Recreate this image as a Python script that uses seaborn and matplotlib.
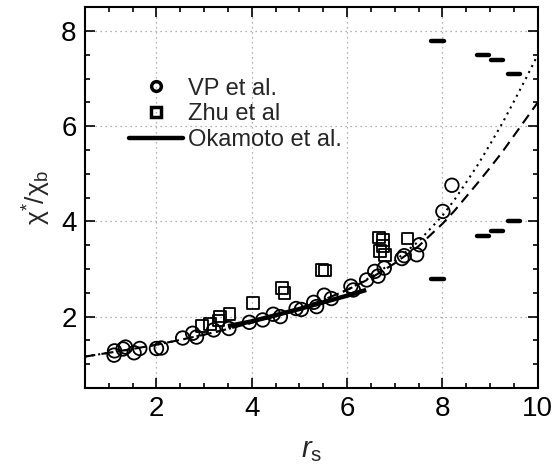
import matplotlib
matplotlib.use("Agg")
import matplotlib.pyplot as plt
from matplotlib.lines import Line2D
from matplotlib.ticker import MultipleLocator
import seaborn as sns

# VP et al. (open circles)
vp_rs = [1.11, 1.12, 1.30, 1.35, 1.53, 1.65, 2.00, 2.10, 2.55, 2.76, 2.84,
         3.20, 3.52, 3.95, 4.23, 4.45, 4.60, 4.93, 5.04, 5.30, 5.36, 5.52,
         5.67, 6.08, 6.13, 6.41, 6.58, 6.65, 6.78, 7.15, 7.20, 7.46, 7.52,
         8.01, 8.20]
vp_chi = [1.19, 1.28, 1.32, 1.36, 1.24, 1.33, 1.33, 1.34, 1.55, 1.65, 1.57,
          1.72, 1.75, 1.88, 1.93, 2.05, 2.00, 2.17, 2.15, 2.30, 2.21, 2.45,
          2.38, 2.64, 2.56, 2.77, 2.95, 2.85, 3.02, 3.22, 3.28, 3.30, 3.51,
          4.21, 4.76]

# Zhu et al (open squares)
zhu_rs = [2.96, 3.12, 3.30, 3.33, 3.53, 4.03, 4.64, 4.69, 5.47, 5.53,
          6.67, 6.75, 6.76, 6.69, 6.79, 7.27]
zhu_chi = [1.80, 1.85, 1.92, 2.00, 2.05, 2.28, 2.60, 2.49, 2.98, 2.97,
           3.66, 3.61, 3.49, 3.38, 3.30, 3.64]

# Okamoto et al. (solid curve)
okamoto_rs = [3.5, 4.0, 4.5, 5.0, 5.5, 6.0, 6.4]
okamoto_chi = [1.80, 1.90, 2.03, 2.16, 2.30, 2.44, 2.56]

# Model curves
curve_rs = [0.5, 1.0, 1.5, 2.0, 2.5, 3.0, 3.5, 4.0, 4.5, 5.0, 5.5, 6.0,
            6.5, 7.0, 7.5, 8.0, 8.25, 8.5, 8.75, 9.0, 9.25, 9.5, 9.75, 10.0]
dotted_chi = [1.16, 1.24, 1.32, 1.41, 1.51, 1.62, 1.74, 1.87, 2.01, 2.17,
              2.35, 2.56, 2.83, 3.17, 3.58, 4.12, 4.45, 4.82, 5.20, 5.62,
              6.05, 6.52, 7.00, 7.50]
dashed_chi = [1.16, 1.24, 1.32, 1.41, 1.51, 1.62, 1.74, 1.87, 2.01, 2.17,
              2.35, 2.56, 2.81, 3.12, 3.48, 3.95, 4.22, 4.52, 4.82, 5.13,
              5.45, 5.80, 6.15, 6.50]

# Bounds at large r_s (short horizontal bars)
bar_rs = [7.9, 8.85, 9.15, 9.5]
bar_upper = [7.8, 7.5, 7.4, 7.1]
bar_lower = [2.8, 3.7, 3.8, 4.0]

x_ticks = [2, 4, 6, 8, 10]
y_ticks = [2, 4, 6, 8]

sns.set_style("ticks")
plt.rcParams["font.family"] = ["Liberation Sans", "DejaVu Sans"]
plt.rcParams["mathtext.fontset"] = "custom"
plt.rcParams["mathtext.rm"] = "Liberation Sans"
plt.rcParams["mathtext.it"] = "Liberation Sans:italic"

fig = plt.figure(figsize=(5.54, 4.70), dpi=100)
ax = fig.add_axes([0.1534, 0.1745, 0.8172, 0.810])

ax.grid(True, which="major", color="#9a9a9a", linestyle=(0, (1, 3)), linewidth=0.9)

sns.lineplot(x=curve_rs, y=dotted_chi, ax=ax, color="black", linewidth=1.5,
             linestyle=(0, (1, 2.2)), estimator=None, sort=False)
sns.lineplot(x=curve_rs, y=dashed_chi, ax=ax, color="black", linewidth=1.5,
             linestyle=(0, (5, 3)), estimator=None, sort=False)
sns.lineplot(x=okamoto_rs, y=okamoto_chi, ax=ax, color="black", linewidth=3.2,
             estimator=None, sort=False, solid_capstyle="butt")

sns.scatterplot(x=vp_rs, y=vp_chi, ax=ax, marker="o", s=95,
                facecolor="none", edgecolor="black", linewidth=1.3, legend=False)
sns.scatterplot(x=zhu_rs, y=zhu_chi, ax=ax, marker="s", s=70,
                facecolor="none", edgecolor="black", linewidth=1.3, legend=False)
for c in ax.collections:
    c.set_facecolor("none")

half = 0.13
for xc, yu, yl in zip(bar_rs, bar_upper, bar_lower):
    for yv in (yu, yl):
        ax.plot([xc - half, xc + half], [yv, yv], color="black", linewidth=3.2,
                solid_capstyle="round")

ax.set_xlim(0.5, 10)
ax.set_ylim(0.5, 8.5)
ax.set_xticks(x_ticks)
ax.set_yticks(y_ticks)
ax.xaxis.set_minor_locator(MultipleLocator(0.5))
ax.yaxis.set_minor_locator(MultipleLocator(0.5))
ax.tick_params(which="both", direction="in", top=True, right=True, width=1.2,
               labelsize=20, colors="black")
ax.tick_params(which="major", length=7, pad=6)
ax.tick_params(which="minor", length=3.5)
for sp in ax.spines.values():
    sp.set_linewidth(1.5)
    sp.set_color("black")

ax.set_xlabel(r"$r_{\mathrm{s}}$", fontsize=21, labelpad=10)
ax.set_ylabel(r"$\mathrm{χ}^{*}/\mathrm{χ}_{\mathrm{b}}$", fontsize=19, labelpad=6)

handles = [
    Line2D([], [], marker="o", linestyle="none", markersize=7,
           markerfacecolor="none", markeredgecolor="black", markeredgewidth=2.5),
    Line2D([], [], marker="s", linestyle="none", markersize=6.5,
           markerfacecolor="none", markeredgecolor="black", markeredgewidth=2.5),
    Line2D([], [], color="black", linewidth=3.2),
]
ax.legend(handles, ["VP et al.", "Zhu et al", "Okamoto et al."],
          loc="upper left", bbox_to_anchor=(0.097, 0.815), frameon=False,
          fontsize=17, handlelength=2.3, handletextpad=0.2, labelspacing=0.16,
          borderpad=0, borderaxespad=0)

fig.savefig("out.png", dpi=100)
